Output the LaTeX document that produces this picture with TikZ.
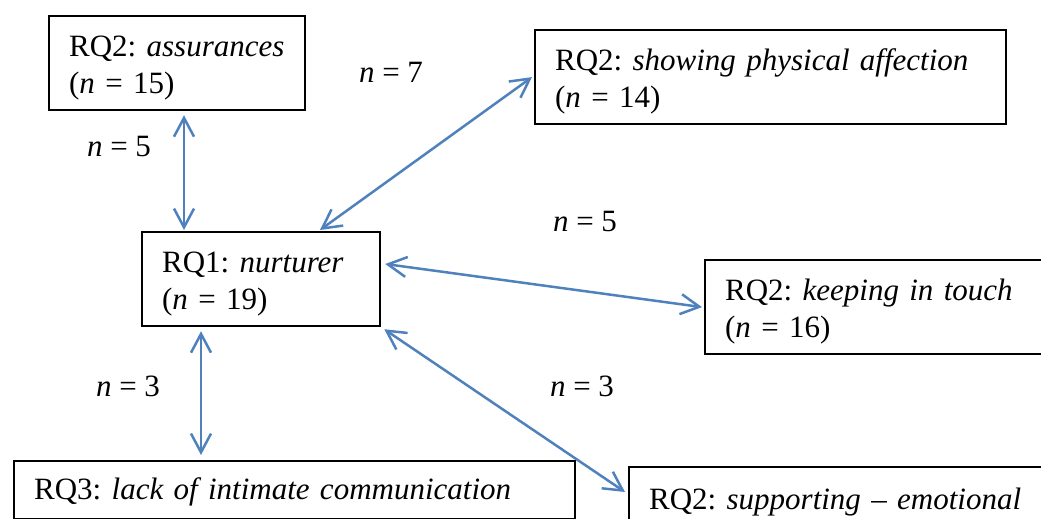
\documentclass[tikz,border=0pt]{standalone}
\usepackage{fontspec}
\setmainfont{Liberation Serif}
\usetikzlibrary{arrows.meta}
\definecolor{linkblue}{RGB}{79,129,189}
\newcommand{\tstrut}{\rule{0pt}{16pt}}
\newcommand{\bstrut}{\rule[-6.8pt]{0pt}{6.8pt}}
\tikzset{
  box/.style={draw, line width=0.9pt, anchor=north west, inner xsep=8pt, inner ysep=0pt,
    align=left, font=\fontsize{12.4}{14.8}\selectfont},
  link/.style={draw=linkblue, line width=1pt,
    {Straight Barb[length=7.5pt,width=8pt]}-{Straight Barb[length=7.5pt,width=8pt]}},
  count/.style={anchor=base, font=\fontsize{12.4}{14.8}\selectfont}
}
\begin{document}
\begin{tikzpicture}[x=0.4pt,y=-0.4pt]
\useasboundingbox (0,0) rectangle (1041,519);

% boxes
\node[box, text width=86.4pt] (assur) at (48,15) {\tstrut RQ2:~\emph{assurances}\\(\emph{n} = 15)\bstrut};
\node[box, text width=172.4pt] (affec) at (534,29) {\tstrut RQ2:~\emph{showing~physical~affection}\\(\emph{n} = 14)\bstrut};
\node[box, text width=79.2pt] (nurt) at (141,231) {\tstrut RQ1:~\emph{nurturer}\\(\emph{n} = 19)\bstrut};
\node[box, text width=126.4pt] (touch) at (704,259) {\tstrut RQ2:~\emph{keeping~in~touch}\\(\emph{n} = 16)\bstrut};
\node[box, text width=208.4pt] (lack) at (13,460) {\rule{0pt}{15.2pt}RQ3:~\emph{lack~of~intimate~communication}\rule[-8pt]{0pt}{8pt}};
\node[box, text width=164.8pt] (supp) at (628,466) {\rule{0pt}{16.8pt}RQ2:~\emph{supporting~--~emotional}\\\bstrut};

% links
\draw[link] ([shift={(136,4)}]assur.south west) -- ([shift={(43,-1)}]nurt.north west);
\draw[link] ([shift={(179,-1)}]nurt.north west) -- ([shift={(-2,0)}]affec.west);
\draw[link] ([shift={(4,33)}]nurt.north east) -- ([shift={(-2,0)}]touch.west);
\draw[link] ([shift={(60,4)}]nurt.south west) -- ([shift={(188,-5)}]lack.north west);
\draw[link] ([shift={(3,2)}]nurt.south east) -- ([shift={(-3,26)}]supp.north west);

% counts
\node[count] (c7) at (391,83) {\emph{n} = 7};
\node[count] (c5a) at (119,157) {\emph{n} = 5};
\node[count] (c5b) at (585,232) {\emph{n} = 5};
\node[count] (c3a) at (128,397) {\emph{n} = 3};
\node[count] (c3b) at (582,397) {\emph{n} = 3};
\end{tikzpicture}
\end{document}
